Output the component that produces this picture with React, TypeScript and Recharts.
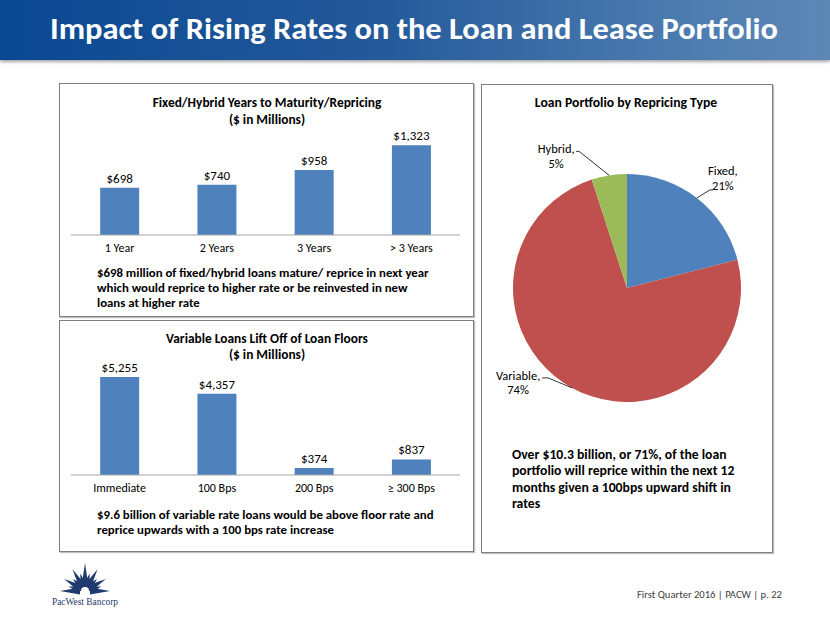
import React from 'react';
import { BarChart, Bar, XAxis, YAxis, LabelList, PieChart, Pie, Cell } from 'recharts';

const FONT = 'Carlito, Lato, sans-serif';

// Fixed/Hybrid years to maturity/repricing ($M)
const maturityCategories = ['1 Year', '2 Years', '3 Years', '> 3 Years'];
const maturityValues = [698, 740, 958, 1323];

// Variable loans lift off of loan floors ($M)
const floorCategories = ['Immediate', '100 Bps', '200 Bps', '≥ 300 Bps'];
const floorValues = [5255, 4357, 374, 837];

// Loan portfolio by repricing type (%)
const repricingTypes = ['Fixed', 'Variable', 'Hybrid'];
const repricingShares = [21, 74, 5];
const repricingColors = ['#4f81bd', '#c0504d', '#9bbb59'];

const maturityNote = [
  '$698 million of fixed/hybrid loans mature/ reprice in next year',
  'which would reprice to higher rate or be reinvested in new',
  'loans at higher rate',
];
const floorNote = [
  '$9.6 billion of variable rate loans would be above floor rate and',
  'reprice upwards with a 100 bps rate increase',
];
const pieNote = [
  'Over $10.3 billion, or 71%, of the loan',
  'portfolio will reprice within the next 12',
  'months given a 100bps upward shift in',
  'rates',
];

const BAR_BLUE = '#4f81bd';

const fmtDollars = (v: any) => `$${Number(v).toLocaleString('en-US')}`;

const tickStyle = { fontSize: 12, fill: '#000', fontFamily: FONT };
const valueStyle = { fontSize: 13, fill: '#000', fontFamily: FONT };

function MaturityChart() {
  const data = maturityCategories.map((c, i) => ({ category: c, value: maturityValues[i] }));
  return (
    <BarChart
      width={414}
      height={233}
      data={data}
      margin={{ top: 57, right: 13, bottom: 61, left: 12 }}
      barCategoryGap="30%"
    >
      <XAxis
        dataKey="category"
        height={20}
        interval={0}
        tickLine={false}
        axisLine={{ stroke: '#a6a6a6' }}
        tick={tickStyle}
      />
      <YAxis hide domain={[0, 1400]} />
      <Bar dataKey="value" fill={BAR_BLUE} isAnimationActive={false}>
        <LabelList dataKey="value" position="top" formatter={fmtDollars} style={valueStyle} />
      </Bar>
    </BarChart>
  );
}

function FloorChart() {
  const data = floorCategories.map((c, i) => ({ category: c, value: floorValues[i] }));
  return (
    <BarChart
      width={414}
      height={231}
      data={data}
      margin={{ top: 43, right: 13, bottom: 56, left: 12 }}
      barCategoryGap="30%"
    >
      <XAxis
        dataKey="category"
        height={20}
        interval={0}
        tickLine={false}
        axisLine={{ stroke: '#a6a6a6' }}
        tick={tickStyle}
      />
      <YAxis hide domain={[0, 6000]} />
      <Bar dataKey="value" fill={BAR_BLUE} isAnimationActive={false}>
        <LabelList dataKey="value" position="top" formatter={fmtDollars} style={valueStyle} />
      </Bar>
    </BarChart>
  );
}

// leader line + text placement relative to the slice's outer edge point
const labelLayout: Record<string, { ex: number; ey: number; tx: number; tEnd: number; b1: number; b2: number }> = {
  Fixed: { ex: 13, ey: -8, tx: 26, tEnd: 16, b1: -23, b2: -8 },
  Hybrid: { ex: -30, ey: -24, tx: -53, tEnd: -33, b1: -22, b2: -7 },
  Variable: { ex: -24, ey: -10, tx: -54, tEnd: -30, b1: -8, b2: 6 },
};

function renderPieLabel(props: any) {
  const { cx, cy, midAngle, outerRadius, name, value } = props;
  const rad = Math.PI / 180;
  const px = cx + outerRadius * Math.cos(-midAngle * rad);
  const py = cy + outerRadius * Math.sin(-midAngle * rad);
  const l = labelLayout[name];
  if (!l) return null;
  return (
    <g>
      <polyline
        points={`${px},${py} ${px + l.ex},${py + l.ey} ${px + l.tEnd},${py + l.ey}`}
        fill="none"
        stroke="#000"
        strokeWidth={0.8}
      />
      <text x={px + l.tx} y={py + l.b1} textAnchor="middle" fontSize={12.5} fontFamily={FONT} fill="#000">
        {name},
      </text>
      <text x={px + l.tx} y={py + l.b2} textAnchor="middle" fontSize={12.5} fontFamily={FONT} fill="#000">
        {value}%
      </text>
    </g>
  );
}

function RepricingPie() {
  const data = repricingTypes.map((t, i) => ({ name: t, value: repricingShares[i] }));
  return (
    <PieChart width={290} height={468} margin={{ top: 0, right: 0, bottom: 0, left: 0 }}>
      <Pie
        data={data}
        dataKey="value"
        nameKey="name"
        cx={145}
        cy={204}
        outerRadius={114}
        startAngle={90}
        endAngle={-270}
        stroke="none"
        label={renderPieLabel}
        labelLine={false}
        isAnimationActive={false}
      >
        {data.map((d, i) => (
          <Cell key={d.name} fill={repricingColors[i]} />
        ))}
      </Pie>
    </PieChart>
  );
}

const logoRays = [0, 15, 30, 45, 60, 75, 90, 105, 120, 135, 150, 165, 180];
const logoLengths = [25, 17, 24, 17, 25, 18, 28, 18, 25, 17, 24, 17, 25];

function Logo() {
  const cx = 85;
  const cy = 591;
  const navy = '#1f3a6e';
  return (
    <g>
      {logoRays.map((a, i) => {
        const r = (a * Math.PI) / 180;
        const len = logoLengths[i];
        const tipX = cx + Math.cos(r) * len;
        const tipY = cy - Math.sin(r) * len;
        const w = 3.4;
        const b1x = cx + Math.cos(r + Math.PI / 2) * w + Math.cos(r) * 5;
        const b1y = cy - Math.sin(r + Math.PI / 2) * w - Math.sin(r) * 5;
        const b2x = cx + Math.cos(r - Math.PI / 2) * w + Math.cos(r) * 5;
        const b2y = cy - Math.sin(r - Math.PI / 2) * w - Math.sin(r) * 5;
        return <polygon key={a} points={`${b1x},${b1y} ${tipX},${tipY} ${b2x},${b2y}`} fill={navy} />;
      })}
      <path d={`M ${cx - 11} ${cy} A 11 11 0 0 1 ${cx + 11} ${cy} Z`} fill={navy} />
      <path d={`M ${cx - 4} ${cy} A 4 4 0 0 1 ${cx + 4} ${cy} Z`} fill="#fff" />
      <text x={85} y={605} textAnchor="middle" fontSize={11} fontFamily="'Liberation Serif', serif" fill={navy} textLength={66} lengthAdjust="spacingAndGlyphs">
        PacWest Bancorp
      </text>
    </g>
  );
}

const boxStyle = (left: number, top: number, width: number, height: number): React.CSSProperties => ({
  position: 'absolute',
  left,
  top,
  width,
  height,
  border: '1px solid #7f7f7f',
  boxShadow: '1px 1px 1px rgba(0,0,0,0.25)',
  background: '#fff',
  boxSizing: 'border-box',
});

export default function App() {
  const titleText = { fontSize: 13.4, fontWeight: 700, fontFamily: FONT, fill: '#000' } as const;
  const noteText = { fontSize: 12.8, fontWeight: 700, fontFamily: FONT, fill: '#000' } as const;
  const pieText = { fontSize: 13.7, fontWeight: 700, fontFamily: FONT, fill: '#000' } as const;
  return (
    <div style={{ position: 'absolute', left: 0, top: 0, width: 830, height: 623, background: '#fff', overflow: 'hidden' }}>
      <div
        style={{
          position: 'absolute',
          left: 0,
          top: 0,
          width: 830,
          height: 60,
          background: 'linear-gradient(to right, #0a4892 0%, #24599a 45%, #4a7aae 80%, #5d88b6 100%)',
          boxShadow: '0 2px 3px rgba(0,0,0,0.35)',
        }}
      />
      <div style={boxStyle(59, 83, 415, 234)} />
      <div style={boxStyle(59, 320, 415, 232)} />
      <div style={boxStyle(481, 84, 292, 469)} />

      <div style={{ position: 'absolute', left: 59, top: 83 }}>
        <MaturityChart />
      </div>
      <div style={{ position: 'absolute', left: 59, top: 320 }}>
        <FloorChart />
      </div>
      <div style={{ position: 'absolute', left: 482, top: 84 }}>
        <RepricingPie />
      </div>

      <svg width={830} height={623} style={{ position: 'absolute', left: 0, top: 0, pointerEvents: 'none' }}>
        <text x={50} y={39} fontSize={30} fontWeight={700} fontFamily={FONT} fill="#fff" textLength={728} lengthAdjust="spacingAndGlyphs">
          Impact of Rising Rates on the Loan and Lease Portfolio
        </text>

        <text x={267} y={107} textAnchor="middle" {...titleText}>Fixed/Hybrid Years to Maturity/Repricing</text>
        <text x={267} y={123.5} textAnchor="middle" {...titleText}>($ in Millions)</text>
        {maturityNote.map((line, i) => (
          <text key={line} x={97} y={276.5 + i * 15} {...noteText}>{line}</text>
        ))}

        <text x={267} y={343} textAnchor="middle" {...titleText}>Variable Loans Lift Off of Loan Floors</text>
        <text x={267} y={359} textAnchor="middle" {...titleText}>($ in Millions)</text>
        {floorNote.map((line, i) => (
          <text key={line} x={97} y={518.5 + i * 15} {...noteText}>{line}</text>
        ))}

        <text x={626} y={107} textAnchor="middle" {...pieText}>Loan Portfolio by Repricing Type</text>
        {pieNote.map((line, i) => (
          <text key={line} x={512} y={458.5 + i * 16.5} {...pieText}>{line}</text>
        ))}

        <text x={782} y={598} textAnchor="end" fontSize={10.6} fontFamily={FONT} fill="#404040">
          First Quarter 2016 | PACW | p. 22
        </text>
        <Logo />
      </svg>
    </div>
  );
}
